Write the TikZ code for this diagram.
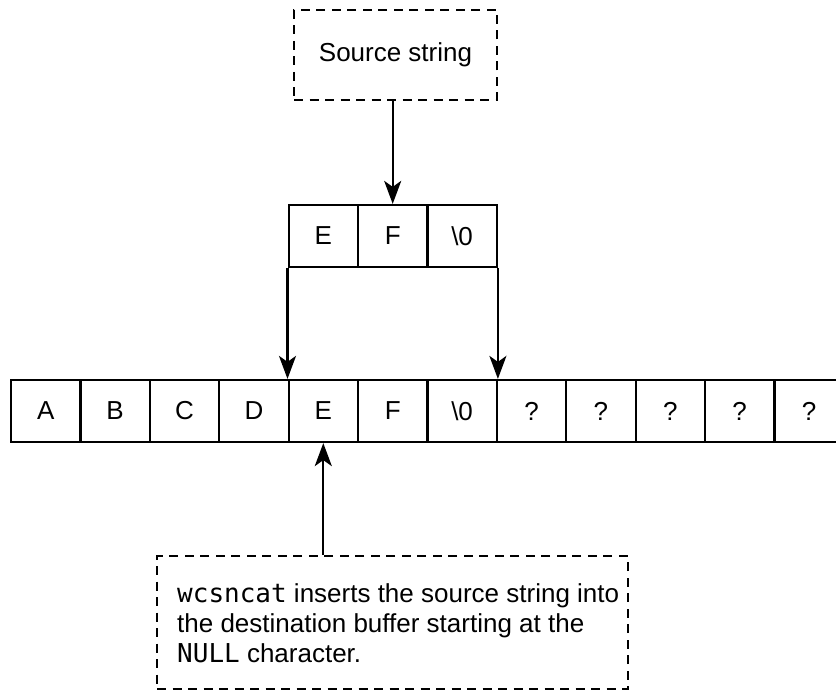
\documentclass[tikz,border=0pt]{standalone}
\usepackage{fontspec}
\setmainfont{Liberation Sans}
\newfontfamily\codefont{DejaVu Sans Mono}
\usetikzlibrary{arrows.meta}
\begin{document}
\begin{tikzpicture}[x=1pt,y=-1pt,
  every node/.style={font=\fontsize{26}{30}\selectfont, text=black},
  cell/.style={draw, line width=2.2pt, minimum width=69.4pt, minimum height=62pt, inner sep=0pt},
  dbox/.style={draw, line width=2.6pt, dash pattern=on 9pt off 6.5pt, inner sep=0pt},
  arr/.style={line width=2.2pt, -{Stealth[length=23pt,width=17pt,inset=6pt]}},
  notetext/.style={align=left, inner sep=0pt, anchor=west}
]
\useasboundingbox (0,0) rectangle (836,693);
\clip (0,0) rectangle (836,693);

% source box
\node[dbox, minimum width=203pt, minimum height=90pt] (src) at (395.5,55) {Source string};

% source cells
\node[cell] (t1) at (323.3,236) {E};
\node[cell] (t2) at (392.7,236) {F};
\node[cell] (t3) at (462.1,236) {\textbackslash 0};

% destination buffer
\node[cell] (b1)  at (45.7,411)  {A};
\node[cell] (b2)  at (115.1,411) {B};
\node[cell] (b3)  at (184.5,411) {C};
\node[cell] (b4)  at (253.9,411) {D};
\node[cell] (b5)  at (323.3,411) {E};
\node[cell] (b6)  at (392.7,411) {F};
\node[cell] (b7)  at (462.1,411) {\textbackslash 0};
\node[cell] (b8)  at (531.5,411) {?};
\node[cell] (b9)  at (600.9,411) {?};
\node[cell] (b10) at (670.3,411) {?};
\node[cell] (b11) at (739.7,411) {?};
\node[cell] (b12) at (809.1,411) {?};

% note box
\node[dbox, minimum width=471pt, minimum height=133pt] (note) at (392.5,622.5) {};
\node[notetext] (notetxt) at (177,623)
  {{\codefont wcsncat} inserts the source string into\\
   the destination buffer starting at the\\
   {\codefont NULL} character.};

% connectors
\draw[arr] (src.south -| t2.north) -- (t2.north);
\draw[arr] (t1.south west) -- (b5.north west);
\draw[arr] (t3.south east) -- (b7.north east);
\draw[arr] (note.north -| b5.south) -- (b5.south);
\end{tikzpicture}
\end{document}
